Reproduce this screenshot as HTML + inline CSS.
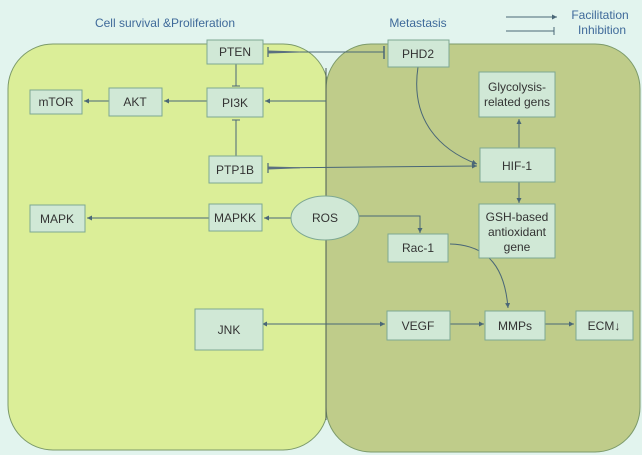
<!DOCTYPE html>
<html><head><style>
body{margin:0;background:#e2f4ee;}
svg{display:block;font-family:"Liberation Sans",sans-serif;}
</style></head><body>
<svg width="642" height="455" viewBox="0 0 642 455">
<defs>
<marker id="a" markerWidth="6" markerHeight="6" refX="5" refY="3" orient="auto"><path d="M0,0.5 L5,3 L0,5.5z" fill="#4a6777"/></marker>
<marker id="b" markerWidth="6" markerHeight="6" refX="1" refY="3" orient="auto-start-reverse"><path d="M0,0.5 L5,3 L0,5.5z" fill="#4a6777"/></marker>
</defs>
<rect width="642" height="455" fill="#e2f4ee"/>
<rect x="8" y="44" width="320" height="406" rx="45" fill="#dbee98" stroke="#7c9a6a"/>
<rect x="326" y="44" width="314" height="408" rx="45" fill="#bfcc8a" stroke="#7c9a6a"/>
<line x1="326" y1="68" x2="326" y2="420" stroke="#4a5a55" stroke-width="1"/>
<g fill="#3f6a9a" font-size="12">
<text x="165" y="27" text-anchor="middle">Cell survival &amp;Proliferation</text>
<text x="418" y="27" text-anchor="middle">Metastasis</text>
<text x="600" y="19" text-anchor="middle">Facilitation</text>
<text x="602" y="34" text-anchor="middle">Inhibition</text>
</g>
<g stroke="#4a6777" stroke-width="1" fill="none">
<line x1="506" y1="17" x2="557" y2="17" marker-end="url(#a)"/>
<line x1="506" y1="31" x2="554" y2="31"/><line x1="554" y1="27" x2="554" y2="35"/>
<line x1="268" y1="52" x2="384" y2="52"/><line x1="384" y1="46" x2="384" y2="59" stroke-width="1.5"/>
<line x1="268" y1="47" x2="268" y2="57" stroke-width="1.2"/>
<path d="M268,50.5 L300,51.5 L300,52.5 L268,53.5z" fill="#5a7080" stroke="none"/>
<line x1="236" y1="64" x2="236" y2="86"/><line x1="232" y1="86" x2="240" y2="86"/>
<line x1="326" y1="101" x2="265" y2="101" marker-end="url(#a)"/>
<line x1="207" y1="101" x2="164" y2="101" marker-end="url(#a)"/>
<line x1="109" y1="101" x2="84" y2="101" marker-end="url(#a)"/>
<line x1="236" y1="156" x2="236" y2="120"/><line x1="232" y1="120" x2="240" y2="120"/>
<line x1="268" y1="168" x2="477" y2="166" marker-end="url(#a)"/>
<line x1="268" y1="163" x2="268" y2="173" stroke-width="1.2"/>
<path d="M268,166.5 L300,167.2 L300,168.2 L268,169.5z" fill="#5a7080" stroke="none"/>
<path d="M418,67 C410,120 440,150 477,164" marker-end="url(#a)"/>
<line x1="519" y1="148" x2="519" y2="119" marker-end="url(#a)"/>
<line x1="519" y1="182" x2="519" y2="203" marker-end="url(#a)"/>
<line x1="291" y1="218" x2="264" y2="218" marker-end="url(#a)"/>
<line x1="209" y1="218" x2="87" y2="218" marker-end="url(#a)"/>
<path d="M359,216 L420,216 L420,233" marker-end="url(#a)"/>
<path d="M450,244 C490,245 505,270 508,308" marker-end="url(#a)"/>
<line x1="266" y1="324" x2="385" y2="324" marker-start="url(#b)" marker-end="url(#a)"/>
<line x1="450" y1="324" x2="484" y2="324" marker-end="url(#a)"/>
<line x1="545" y1="324" x2="574" y2="324" marker-end="url(#a)"/>
</g>
<g fill="#d0e8d6" stroke="#7ea892" stroke-width="1">
<rect x="207" y="40" width="56" height="24"/>
<rect x="388" y="40" width="61" height="27"/>
<rect x="479" y="72" width="76" height="45"/>
<rect x="30" y="90" width="52" height="24"/>
<rect x="109" y="88" width="53" height="28"/>
<rect x="207" y="88" width="56" height="29"/>
<rect x="209" y="156" width="53" height="27"/>
<rect x="480" y="148" width="75" height="34"/>
<rect x="30" y="205" width="55" height="27"/>
<rect x="209" y="204" width="53" height="27"/>
<ellipse cx="325" cy="218" rx="34" ry="22"/>
<rect x="479" y="204" width="76" height="54"/>
<rect x="388" y="234" width="60" height="28"/>
<rect x="195" y="309" width="68" height="41"/>
<rect x="387" y="311" width="63" height="29"/>
<rect x="485" y="311" width="60" height="29"/>
<rect x="576" y="311" width="57" height="29"/>
</g>
<g fill="#333" font-size="12" text-anchor="middle">
<text x="235" y="56">PTEN</text>
<text x="418" y="58">PHD2</text>
<text x="517" y="91">Glycolysis-</text>
<text x="517" y="106">related gens</text>
<text x="56" y="106">mTOR</text>
<text x="135" y="106">AKT</text>
<text x="235" y="107">PI3K</text>
<text x="235" y="174">PTP1B</text>
<text x="517" y="170">HIF-1</text>
<text x="57" y="223">MAPK</text>
<text x="235" y="222">MAPKK</text>
<text x="325" y="222">ROS</text>
<text x="517" y="221">GSH-based</text>
<text x="517" y="236">antioxidant</text>
<text x="517" y="251">gene</text>
<text x="418" y="252">Rac-1</text>
<text x="229" y="334">JNK</text>
<text x="418" y="330">VEGF</text>
<text x="515" y="330">MMPs</text>
<text x="604" y="330">ECM↓</text>
</g>
</svg>
</body></html>
